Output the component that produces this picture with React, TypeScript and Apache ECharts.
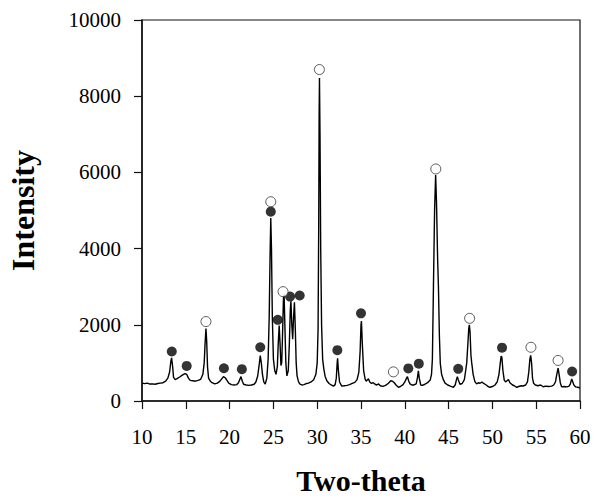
import React, { useEffect, useRef } from "react";
import * as echarts from "echarts";

const twoTheta = [
  10.0, 10.3, 10.6, 10.9, 11.2, 11.5, 11.8, 12.1, 12.4, 12.7, 12.95, 13.15, 13.3, 13.38, 13.5, 13.6, 13.8,
  14.0, 14.3, 14.6, 14.9, 15.1, 15.3, 15.5, 15.8, 16.1, 16.4, 16.7, 16.95, 17.1, 17.2, 17.3, 17.38, 17.48,
  17.6, 17.8, 18.0, 18.3, 18.6, 18.9, 19.1, 19.3, 19.5, 19.7, 19.9, 20.2, 20.5, 20.8, 21.0, 21.15, 21.3,
  21.45, 21.6, 21.9, 22.2, 22.5, 22.8, 23.0, 23.2, 23.35, 23.5, 23.62, 23.75, 23.9, 24.07, 24.25, 24.4,
  24.52, 24.62, 24.7, 24.78, 24.88, 25.0, 25.15, 25.3, 25.45, 25.55, 25.66, 25.76, 25.86, 25.95, 26.05,
  26.15, 26.22, 26.32, 26.42, 26.54, 26.7, 26.82, 26.93, 27.0, 27.1, 27.2, 27.3, 27.4, 27.5, 27.6, 27.7,
  27.85, 28.0, 28.25, 28.5, 28.8, 29.0, 29.3, 29.6, 29.85, 30.0, 30.1, 30.17, 30.22, 30.26, 30.32, 30.4,
  30.5, 30.62, 30.75, 30.9, 31.1, 31.35, 31.6, 31.86, 32.05, 32.18, 32.28, 32.33, 32.42, 32.55, 32.8,
  33.1, 33.4, 33.7, 34.0, 34.3, 34.55, 34.75, 34.9, 35.0, 35.05, 35.15, 35.3, 35.47, 35.6, 35.75, 35.85,
  36.0, 36.2, 36.4, 36.6, 36.8, 37.0, 37.2, 37.5, 37.8, 38.1, 38.4, 38.6, 38.8, 39.0, 39.27, 39.5, 39.8,
  40.0, 40.2, 40.3, 40.45, 40.6, 40.8, 41.0, 41.3, 41.45, 41.55, 41.65, 41.82, 42.0, 42.3, 42.6, 42.9,
  43.05, 43.15, 43.27, 43.4, 43.52, 43.62, 43.75, 43.84, 43.95, 44.05, 44.2, 44.4, 44.6, 44.9, 45.2,
  45.55, 45.75, 45.9, 46.0, 46.1, 46.3, 46.55, 46.8, 46.95, 47.07, 47.2, 47.3, 47.37, 47.45, 47.55, 47.64,
  47.8, 48.0, 48.2, 48.4, 48.6, 48.8, 49.0, 49.3, 49.5, 49.73, 50.0, 50.3, 50.55, 50.75, 50.9, 51.0,
  51.08, 51.2, 51.35, 51.5, 51.7, 51.85, 52.0, 52.3, 52.5, 52.78, 53.0, 53.3, 53.5, 53.8, 54.0, 54.15,
  54.28, 54.37, 54.47, 54.58, 54.7, 54.9, 55.2, 55.5, 55.8, 56.1, 56.4, 56.77, 57.0, 57.2, 57.35, 57.5,
  57.6, 57.75, 57.9, 58.2, 58.5, 58.75, 58.9, 59.05, 59.15, 59.3, 59.5, 59.75, 60.0,
];

const intensity = [
  470, 455, 470, 445, 450, 440, 460, 470, 480, 520, 600, 760, 1050, 1130, 900, 620, 560,
  590, 630, 680, 720, 700, 600, 540, 530, 520, 540, 570, 700, 1000, 1500, 1900, 1600, 900,
  600, 520, 480, 450, 470, 520, 580, 640, 610, 540, 470, 430, 420, 430, 470, 560, 640,
  520, 440, 420, 410, 420, 440, 500, 650, 900, 1190, 1000, 700, 500, 445, 600, 1100,
  2200, 3800, 4800, 4000, 2200, 1100, 800, 700, 900, 1500, 1980, 1500, 930, 1000, 1800,
  2700, 2800, 1900, 1000, 660, 800, 1500, 2400, 2620, 2000, 1620, 2200, 2590, 1900, 1000, 660,
  520, 450, 420, 430, 460, 470, 500, 560, 700, 1000, 1900, 4500, 7500, 8480, 7000, 4000,
  2000, 1100, 850, 650, 530, 460, 420, 390, 430, 600, 1000, 1120, 800, 500, 390,
  400, 410, 430, 460, 490, 560, 750, 1300, 2000, 2100, 1500, 800, 575, 520, 560, 580,
  500, 460, 480, 440, 420, 450, 400, 385, 410, 460, 530, 520, 480, 420, 360, 380, 430,
  500, 600, 640, 520, 450, 420, 420, 450, 620, 790, 600, 420, 410, 440, 480, 550,
  700, 1100, 3000, 5000, 5930, 5200, 3700, 3000, 1700, 990, 700, 560, 470, 420, 390,
  360, 420, 560, 640, 560, 440, 460, 560, 800, 1000, 1500, 1900, 2000, 1800, 1200, 1000,
  700, 510, 450, 480, 465, 500, 460, 420, 380, 360, 380, 420, 500, 700, 1000, 1180,
  1150, 800, 550, 500, 540, 560, 480, 420, 400, 360, 380, 400, 394, 420, 500, 750,
  1100, 1200, 1000, 600, 465, 420, 400, 420, 375, 390, 380, 390, 420, 500, 700, 860,
  720, 480, 370, 380, 370, 390, 450, 580, 520, 420, 370, 360, 340,
];

// Phase markers (filled circles)
const filledX = [13.4, 15.1, 19.35, 21.4, 23.5, 24.7, 25.5, 26.9, 28.0, 32.3, 35.0, 40.4, 41.6, 46.1, 51.1, 59.1];
const filledY = [1300, 920, 860, 835, 1410, 4970, 2130, 2740, 2770, 1335, 2300, 855, 980, 845, 1400, 775];

// Phase markers (open circles)
const openX = [17.3, 24.7, 26.1, 30.25, 38.7, 43.54, 47.4, 54.4, 57.5];
const openY = [2085, 5230, 2870, 8700, 765, 6090, 2170, 1410, 1065];

const xTicks = { min: 10, max: 60, interval: 5 };
const yTicks = { min: 0, max: 10000, interval: 2000 };

export default function App() {
  const ref = useRef<HTMLDivElement>(null);

  useEffect(() => {
    if (!ref.current) return;
    const chart = echarts.init(ref.current, undefined, { renderer: "svg" });
    const serif = "'Liberation Serif', 'Times New Roman', serif";
    const lineData = twoTheta.map((x, i) => [x, intensity[i]]);
    const filledData = filledX.map((x, i) => [x, filledY[i]]);
    const openData = openX.map((x, i) => [x, openY[i]]);

    chart.setOption({
      animation: false,
      backgroundColor: "#ffffff",
      grid: {
        left: 142,
        right: 14,
        top: 20,
        bottom: 97,
        show: true,
        borderColor: "#111",
        borderWidth: 1.2,
        backgroundColor: "transparent",
        containLabel: false,
        outerBoundsMode: "none",
      },
      xAxis: {
        type: "value",
        min: xTicks.min,
        max: xTicks.max,
        interval: xTicks.interval,
        name: "Two-theta",
        nameLocation: "middle",
        nameGap: 64,
        nameTextStyle: { fontFamily: serif, fontSize: 30, lineHeight: 30, fontWeight: "bold", color: "#000" },
        axisLine: { show: true, onZero: false, lineStyle: { color: "#111", width: 1.5 } },
        axisTick: { show: true, inside: false, length: 8, lineStyle: { color: "#111", width: 1.2 } },
        axisLabel: { fontFamily: serif, fontSize: 21, color: "#000", margin: 25, formatter: (v: number) => String(v) },
        splitLine: { show: false },
      },
      yAxis: {
        type: "value",
        min: yTicks.min,
        max: yTicks.max,
        interval: yTicks.interval,
        name: "Intensity",
        nameLocation: "middle",
        nameGap: 103,
        nameTextStyle: { fontFamily: serif, fontSize: 32, fontWeight: "bold", color: "#000" },
        axisLine: { show: true, onZero: false, lineStyle: { color: "#111", width: 1.5 } },
        axisTick: { show: true, inside: false, length: 8, lineStyle: { color: "#111", width: 1.2 } },
        axisLabel: { fontFamily: serif, fontSize: 21, color: "#000", margin: 21, formatter: (v: number) => String(v) },
        splitLine: { show: false },
      },
      series: [
        {
          type: "line",
          data: lineData,
          showSymbol: false,
          symbol: "none",
          lineStyle: { color: "#000", width: 1.4 },
          z: 2,
        },
        {
          type: "scatter",
          data: filledData,
          symbol: "circle",
          symbolSize: 10,
          itemStyle: { color: "#000", borderColor: "#000", borderWidth: 0 },
          z: 3,
        },
        {
          type: "scatter",
          data: openData,
          symbol: "circle",
          symbolSize: 10,
          itemStyle: { color: "#fff", borderColor: "#333", borderWidth: 1 },
          z: 3,
        },
      ],
    });
    return () => chart.dispose();
  }, []);

  return (
    <div
      ref={ref}
      style={{ position: "fixed", left: 0, top: 0, width: 594, height: 498 }}
    />
  );
}
